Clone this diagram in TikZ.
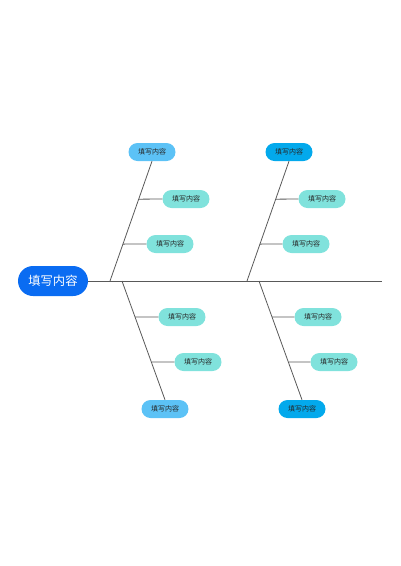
\documentclass[tikz,border=0pt]{standalone}
\usepackage{fontspec}
\newfontfamily\cjk{Noto Sans CJK SC}
\usepackage{tikz}
\usetikzlibrary{calc}
\definecolor{headblue}{HTML}{0A6CF2}
\definecolor{skyblue}{HTML}{5CC2F6}
\definecolor{deepsky}{HTML}{03A9EC}
\definecolor{aqua}{HTML}{80E2DC}

\begin{document}
\begin{tikzpicture}[x=1pt,y=-1pt]
 \tikzstyle{bone} = [draw=black!65, line width=0.8pt]
 \tikzstyle{pill} = [rounded corners=9pt, minimum width=47pt, minimum height=18pt,
   inner sep=0pt, text=black!85, font=\cjk\fontsize{7}{8}\selectfont]
 \tikzstyle{head} = [fill=headblue, rounded corners=15pt, minimum width=70pt,
   minimum height=30pt, inner sep=0pt, text=white, font=\cjk\fontsize{12.3}{13}\selectfont]
 \newcommand{\txt}{填写内容}

 \useasboundingbox (0,0) rectangle (400,566);

% Head and spine
 \node[head] (hd) at (53,281) {\txt};
 \coordinate (tail) at (382,281);
 \draw[bone] (hd.east) -- (tail);

% Joints on the spine
 \coordinate (ja) at (110,281);
 \coordinate (jb) at (122,281);
 \coordinate (jc) at (247,281);
 \coordinate (jd) at (259,281);

% Upper bones
 \node[pill,fill=skyblue] (ua) at (152,152) {\txt};
 \node[pill,fill=aqua] (ua1) at (186,199) {\txt};
 \node[pill,fill=aqua] (ua2) at (170,244) {\txt};
 \draw[bone] (ua.south) -- (ja);
 \draw[bone] ($(ua.south)!0.317!(ja)$) -- (ua1.west);
 \draw[bone] ($(ua.south)!0.692!(ja)$) -- (ua2.west);

 \node[pill,fill=deepsky] (uc) at (289,152) {\txt};
 \node[pill,fill=aqua] (uc1) at (322,199) {\txt};
 \node[pill,fill=aqua] (uc2) at (306,244) {\txt};
 \draw[bone] (uc.south) -- (jc);
 \draw[bone] ($(uc.south)!0.317!(jc)$) -- (uc1.west);
 \draw[bone] ($(uc.south)!0.692!(jc)$) -- (uc2.west);

% Lower bones
 \node[pill,fill=skyblue] (lb) at (165,409) {\txt};
 \node[pill,fill=aqua] (lb1) at (182,317) {\txt};
 \node[pill,fill=aqua] (lb2) at (198,362) {\txt};
 \draw[bone] (jb) -- (lb.north);
 \draw[bone] ($(jb)!0.303!(lb.north)$) -- (lb1.west);
 \draw[bone] ($(jb)!0.681!(lb.north)$) -- (lb2.west);

 \node[pill,fill=deepsky] (ld) at (302,409) {\txt};
 \node[pill,fill=aqua] (ld1) at (318,317) {\txt};
 \node[pill,fill=aqua] (ld2) at (334,362) {\txt};
 \draw[bone] (jd) -- (ld.north);
 \draw[bone] ($(jd)!0.303!(ld.north)$) -- (ld1.west);
 \draw[bone] ($(jd)!0.681!(ld.north)$) -- (ld2.west);
\end{tikzpicture}
\end{document}
